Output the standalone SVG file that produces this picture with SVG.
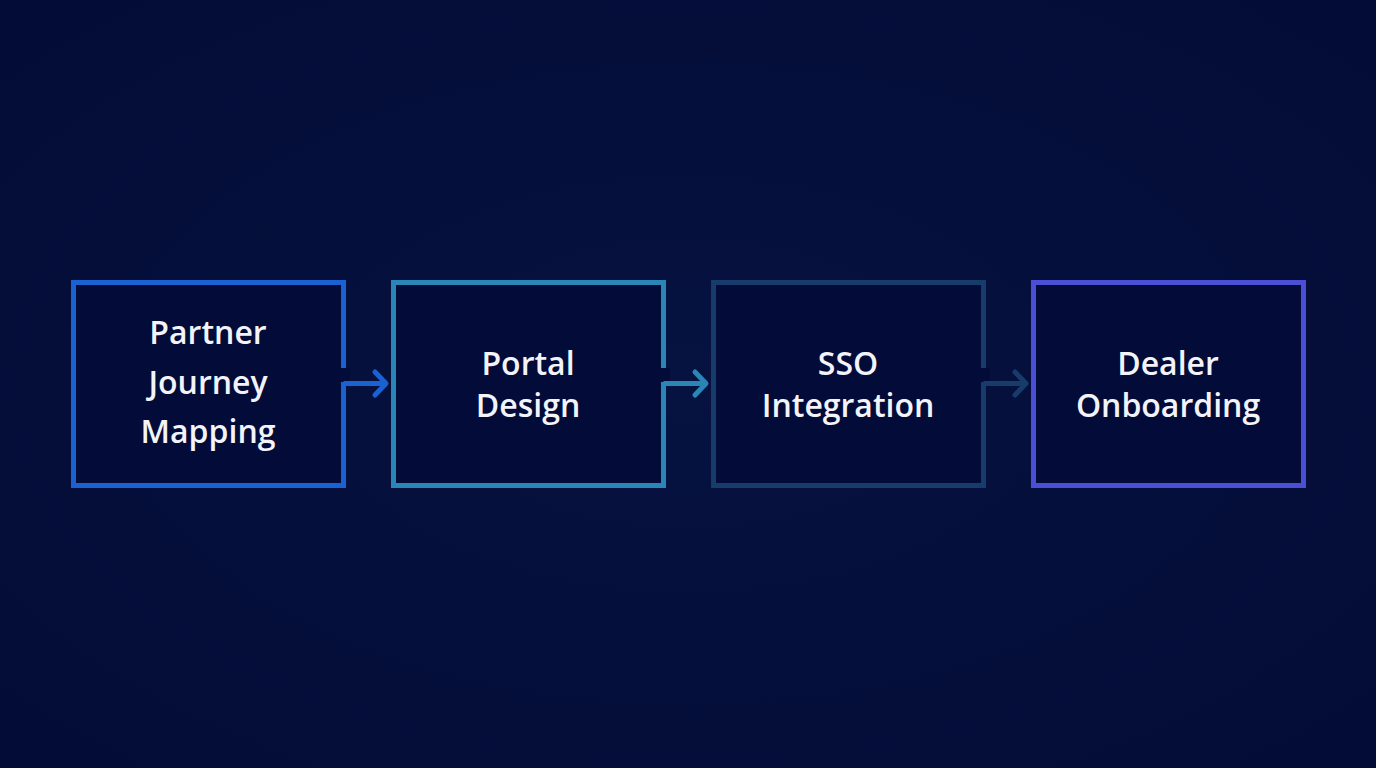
<svg xmlns="http://www.w3.org/2000/svg" width="1376" height="768" viewBox="0 0 1376 768">
<defs>
<radialGradient id="bg" cx="50%" cy="50%" r="70%">
<stop offset="0" stop-color="#061240"/>
<stop offset="1" stop-color="#030c36"/>
</radialGradient>
<style>
.box{fill:#030b38;stroke-width:5;stroke-linejoin:miter}
.lbl{font-family:"Open Sans","Noto Sans","Liberation Sans",sans-serif;font-size:32px;font-weight:600;fill:#f2f4fa;text-anchor:middle}
.conn{fill:none;stroke-width:5;stroke-linecap:butt;stroke-linejoin:miter}
.head{fill:none;stroke-width:5;stroke-linecap:round;stroke-linejoin:round}
</style>
</defs>
<rect width="1376" height="768" fill="url(#bg)"/>
<g id="n1">
<rect class="box" x="73.5" y="282.5" width="270" height="203" stroke="#1a62d2"/>
<rect x="338" y="368" width="12" height="14" fill="#030b38"/>
<text class="lbl" x="208" y="344">Partner</text>
<text class="lbl" x="208" y="394">Journey</text>
<text class="lbl" x="208" y="443">Mapping</text>
</g>
<g id="n2">
<rect class="box" x="393.5" y="282.5" width="270" height="203" stroke="#2a86b6"/>
<rect x="658" y="368" width="12" height="14" fill="#030b38"/>
<text class="lbl" x="528" y="375">Portal</text>
<text class="lbl" x="528" y="417">Design</text>
</g>
<g id="n3">
<rect class="box" x="713.5" y="282.5" width="270" height="203" stroke="#173c6c"/>
<rect x="978" y="368" width="12" height="14" fill="#030b38"/>
<text class="lbl" x="848" y="375">SSO</text>
<text class="lbl" x="848" y="417">Integration</text>
</g>
<g id="n4">
<rect class="box" x="1033.5" y="282.5" width="270" height="203" stroke="#4a4fd6"/>
<text class="lbl" x="1168" y="375">Dealer</text>
<text class="lbl" x="1168" y="417">Onboarding</text>
</g>
<g id="connectors">
<path class="conn" stroke="#1a62d2" d="M343.5 382 V383.5 H385"/>
<path class="head" stroke="#1a62d2" d="M375 372 L386 383.5 L375 395"/>
<path class="conn" stroke="#2a86b6" d="M663.5 382 V383.5 H705"/>
<path class="head" stroke="#2a86b6" d="M695 372 L706 383.5 L695 395"/>
<path class="conn" stroke="#173c6c" d="M983.5 382 V383.5 H1025"/>
<path class="head" stroke="#173c6c" d="M1015 372 L1026 383.5 L1015 395"/>
</g>
</svg>
